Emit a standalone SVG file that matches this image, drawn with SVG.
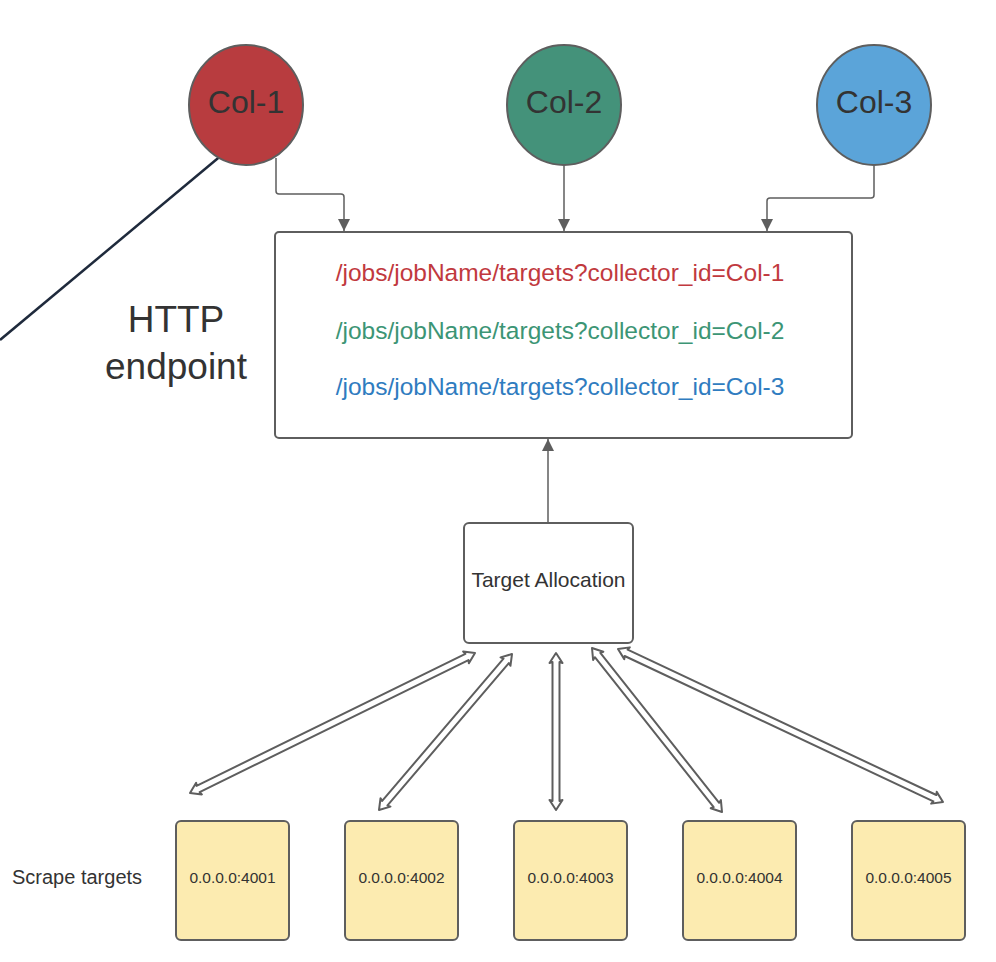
<svg xmlns="http://www.w3.org/2000/svg" width="996" height="962" viewBox="0 0 996 962">
<style>
text{font-family:"Liberation Sans",Arial,sans-serif;fill:#333333}
.col{stroke:#5e5e5e;stroke-width:2}
.box{fill:#ffffff;stroke:#5e5e5e;stroke-width:2}
.tgt{fill:#fcebb0;stroke:#5e5e5e;stroke-width:2}
.conn{fill:none;stroke:#5e5e5e;stroke-width:1.5}
.dbl{fill:#ffffff;stroke:#5e5e5e;stroke-width:2;stroke-linejoin:round}
</style>
<defs>
<marker id="ah" markerWidth="12" markerHeight="12" refX="10" refY="5" orient="auto" markerUnits="userSpaceOnUse" viewBox="0 0 10 10">
<path d="M0,0 L10,5 L0,10 Z" fill="#5e5e5e"/>
</marker>
</defs>
<g id="connectors">
<line x1="0" y1="340" x2="223" y2="154" stroke="#1f2a3c" stroke-width="2.5"/>
<path class="conn" d="M276,158 V191 Q276,194 279,194 H341 Q344,194 344,197 V231" marker-end="url(#ah)"/>
<path class="conn" d="M564,166 V231" marker-end="url(#ah)"/>
<path class="conn" d="M874,166 V195 Q874,198 871,198 H770 Q767,198 767,201 V231" marker-end="url(#ah)"/>
<path class="conn" d="M548,523 V439" marker-end="url(#ah)"/>
<g transform="translate(475,653) rotate(153.84)"><polygon class="dbl" points="0,0 10,-6.5 9,-3.5 308.5,-3.5 307.5,-6.5 317.5,0 307.5,6.5 308.5,3.5 9,3.5 10,6.5"/></g>
<g transform="translate(512,654) rotate(130.45)"><polygon class="dbl" points="0,0 10,-6.5 9,-3.5 196,-3.5 195,-6.5 205,0 195,6.5 196,3.5 9,3.5 10,6.5"/></g>
<g transform="translate(556,653) rotate(90)"><polygon class="dbl" points="0,0 10,-6.5 9,-3.5 148,-3.5 147,-6.5 157,0 147,6.5 148,3.5 9,3.5 10,6.5"/></g>
<g transform="translate(592,648) rotate(51.6)"><polygon class="dbl" points="0,0 10,-6.5 9,-3.5 200.3,-3.5 199.3,-6.5 209.3,0 199.3,6.5 200.3,3.5 9,3.5 10,6.5"/></g>
<g transform="translate(618,649) rotate(25.21)"><polygon class="dbl" points="0,0 10,-6.5 9,-3.5 350.2,-3.5 349.2,-6.5 359.2,0 349.2,6.5 350.2,3.5 9,3.5 10,6.5"/></g>
</g>
<g id="col1">
<ellipse class="col" cx="246" cy="105" rx="57" ry="60" fill="#b83c3f"/>
<text x="246" y="113" font-size="32" text-anchor="middle">Col-1</text>
</g>
<g id="col2">
<ellipse class="col" cx="564" cy="105" rx="57" ry="60" fill="#44927a"/>
<text x="564" y="113" font-size="32" text-anchor="middle">Col-2</text>
</g>
<g id="col3">
<ellipse class="col" cx="874" cy="105" rx="57" ry="60" fill="#5ba4d9"/>
<text x="874" y="113" font-size="32" text-anchor="middle">Col-3</text>
</g>
<g id="http-label">
<text x="176" y="332" font-size="37" text-anchor="middle">HTTP</text>
<text x="176" y="379" font-size="37" text-anchor="middle">endpoint</text>
</g>
<g id="endpoint">
<rect class="box" x="275" y="232" width="577" height="206" rx="4"/>
<text x="560" y="281" font-size="24.5" text-anchor="middle" style="fill:#c1393e">/jobs/jobName/targets?collector_id=Col-1</text>
<text x="560" y="339" font-size="24.5" text-anchor="middle" style="fill:#3c9575">/jobs/jobName/targets?collector_id=Col-2</text>
<text x="560" y="395" font-size="24.5" text-anchor="middle" style="fill:#2f7cc0">/jobs/jobName/targets?collector_id=Col-3</text>
</g>
<g id="target-allocation">
<rect class="box" x="464" y="523" width="169" height="120" rx="5"/>
<text x="548.5" y="587" font-size="21" text-anchor="middle">Target Allocation</text>
</g>
<g id="scrape-label">
<text x="12" y="884" font-size="20">Scrape targets</text>
</g>
<g id="t4001"><rect class="tgt" x="176" y="821" width="113" height="119" rx="5"/><text x="232.5" y="883" font-size="15.5" text-anchor="middle">0.0.0.0:4001</text></g>
<g id="t4002"><rect class="tgt" x="345" y="821" width="113" height="119" rx="5"/><text x="401.5" y="883" font-size="15.5" text-anchor="middle">0.0.0.0:4002</text></g>
<g id="t4003"><rect class="tgt" x="514" y="821" width="113" height="119" rx="5"/><text x="570.5" y="883" font-size="15.5" text-anchor="middle">0.0.0.0:4003</text></g>
<g id="t4004"><rect class="tgt" x="683" y="821" width="113" height="119" rx="5"/><text x="739.5" y="883" font-size="15.5" text-anchor="middle">0.0.0.0:4004</text></g>
<g id="t4005"><rect class="tgt" x="852" y="821" width="113" height="119" rx="5"/><text x="908.5" y="883" font-size="15.5" text-anchor="middle">0.0.0.0:4005</text></g>
</svg>
